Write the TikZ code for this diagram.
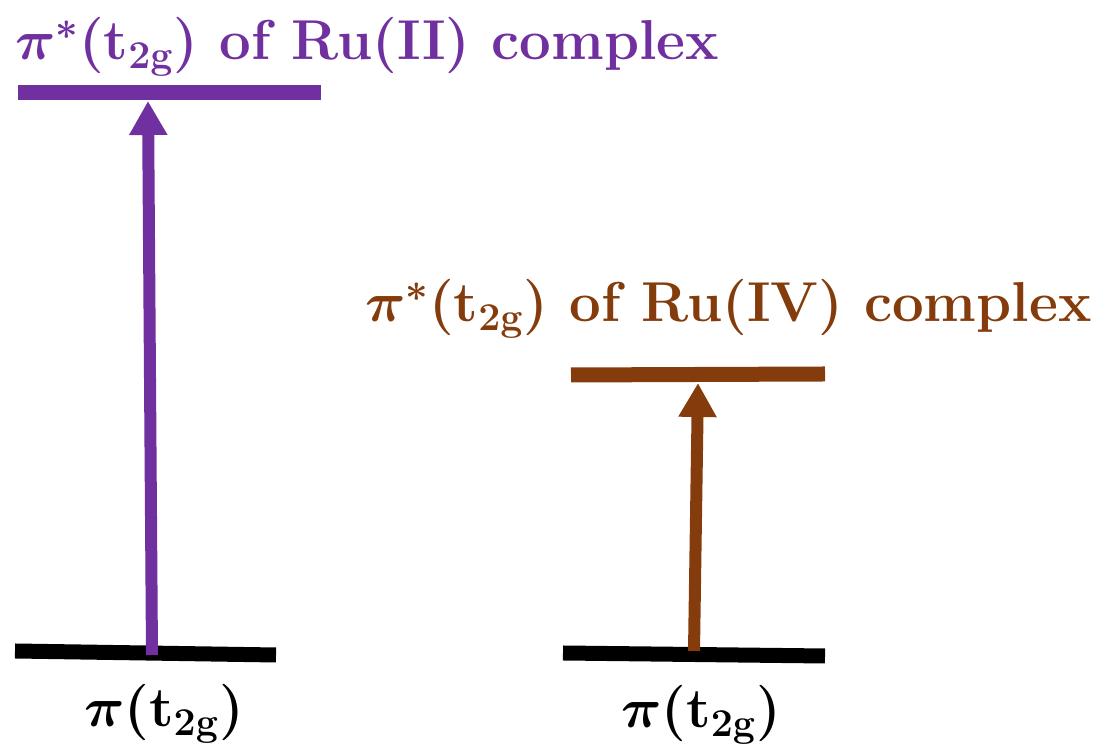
\RequirePackage{fix-cm}
\documentclass[tikz,border=0pt]{standalone}
\usepackage{amsmath}
\usepackage{tikz}
\usetikzlibrary{arrows.meta}
\definecolor{myPurple}{RGB}{112,48,160}
\definecolor{myBrown}{RGB}{132,60,12}

\begin{document}
\begin{tikzpicture}[
  lvl/.style={line width=0.375cm},
  excite/.style={line width=0.3cm, -{Triangle[length=0.85cm, width=0.9cm]}},
  lbl/.style={font=\fontsize{40}{46}\selectfont\bfseries\boldmath, inner sep=0pt},
]
  \useasboundingbox (0,0) rectangle (27.625,18.775);
  % energy levels
  \draw[lvl, black] (0.375,2.5) -- (6.9,2.4);
  \draw[lvl, black] (14.075,2.45) -- (20.625,2.375);
  \draw[lvl, myPurple] (0.45,16.45) -- (8.03,16.45);
  \draw[lvl, myBrown] (14.275,9.4) -- (20.625,9.425);
  % transitions
  \coordinate (fromII) at (3.8,2.4);
  \coordinate (toII) at (3.7,16.25);
  \coordinate (fromIV) at (17.35,2.5);
  \coordinate (toIV) at (17.45,9.2);
  \draw[excite, myPurple] (fromII) -- (toII);
  \draw[excite, myBrown] (fromIV) -- (toIV);
  % labels
  \node[lbl, myPurple, anchor=base west] (topII) at (0.375,17.275)
    {$\pi^{*}$(t$_\mathbf{2g}$) of Ru(II) complex};
  \node[lbl, myBrown, anchor=base west] (topIV) at (9.125,10.725)
    {$\pi^{*}$(t$_\mathbf{2g}$) of Ru(IV) complex};
  \node[lbl, anchor=base] (baseII) at (4.1,0.6) {$\pi$(t$_\mathbf{2g}$)};
  \node[lbl, anchor=base] (baseIV) at (17.525,0.575) {$\pi$(t$_\mathbf{2g}$)};
\end{tikzpicture}
\end{document}
